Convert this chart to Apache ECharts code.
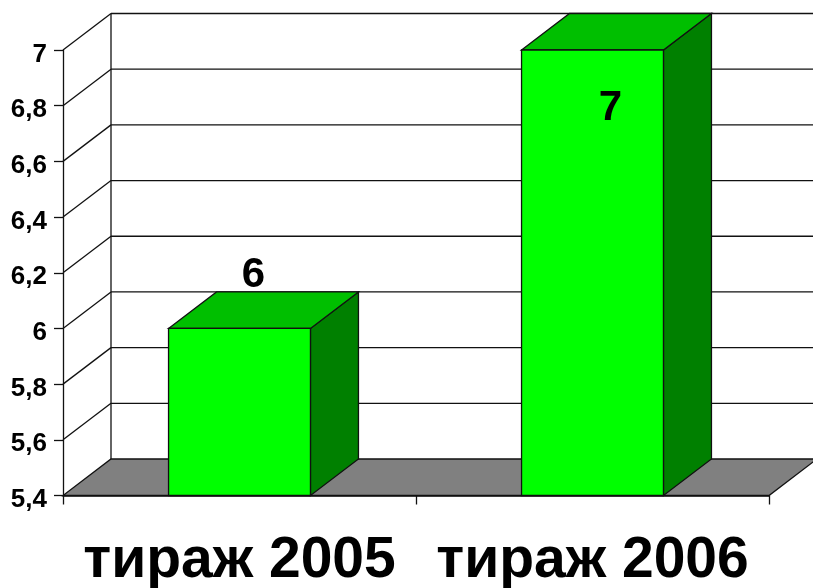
<!DOCTYPE html>
<html>
<head>
<meta charset="utf-8">
<style>html,body{margin:0;padding:0;background:#fff}#c{width:813px;height:588px}</style>
<script src="https://cdn.jsdelivr.net/npm/echarts@6/dist/echarts.min.js"></script>
</head>
<body>
<div id="c"></div>
<script>
const categories = ['тираж 2005', 'тираж 2006'];
const values = [6, 7];
const dataLabels = ['6', '7'];
const gridValues = [5.6, 5.8, 6, 6.2, 6.4, 6.6, 6.8, 7];

const DX = 48, DY = -36.5;
const LINE = '#111';
const chart = echarts.init(document.getElementById('c'), null, {renderer: 'canvas'});

function poly(points, fill, z2) {
  return {type: 'polygon', z2: z2 || 0, shape: {points}, style: {fill, stroke: LINE, lineWidth: 1.3}};
}
function seg(a, b) {
  return {type: 'line', shape: {x1: a[0], y1: a[1], x2: b[0], y2: b[1]}, style: {stroke: LINE, lineWidth: 1.3}};
}

function renderWalls(params, api) {
  const cs = params.coordSys;
  const left = cs.x, right = cs.x + cs.width, bottom = cs.y + cs.height;
  const els = [];
  els.push(poly([[left, bottom], [right, bottom], [right + DX, bottom + DY], [left + DX, bottom + DY]], '#808080'));
  els.push(seg([left + DX, cs.y + DY], [left + DX, bottom + DY]));
  gridValues.forEach(v => {
    const y = api.coord([0, v])[1];
    els.push(seg([left, y], [left + DX, y + DY]));
    els.push(seg([left + DX, y + DY], [right + DX, y + DY]));
  });
  return {type: 'group', children: els};
}

function renderBar(params, api) {
  const p = api.coord([api.value(0), api.value(1)]);
  const base = api.coord([api.value(0), 5.4]);
  const w = api.size([1, 0])[0] * 0.402;
  const l = p[0] - w / 2, r = p[0] + w / 2, t = p[1], b = base[1];
  const above = t - 53;
  const inside = above < 20;
  return {type: 'group', children: [
    poly([[r, t], [r + DX, t + DY], [r + DX, b + DY], [r, b]], '#008000'),
    poly([[l, t], [l + DX, t + DY], [r + DX, t + DY], [r, t]], '#00BF00'),
    poly([[l, t], [r, t], [r, b], [l, b]], '#00FF00'),
    {type: 'text', z2: 10, style: {
      text: dataLabels[params.dataIndex], x: p[0] + (inside ? 18 : 14), y: inside ? t + 58 : above,
      align: 'center', verticalAlign: 'middle',
      font: 'bold 42px "Liberation Sans"', fill: '#000'
    }}
  ]};
}

chart.setOption({
  animation: false,
  backgroundColor: '#fff',
  grid: {left: 63, top: 50, width: 706, height: 445.5, containLabel: false, outerBoundsMode: 'none'},
  xAxis: {
    type: 'category', data: categories, z: 5,
    axisLine: {lineStyle: {color: LINE, width: 1.5}},
    axisTick: {show: true, length: 9, alignWithLabel: false, lineStyle: {color: LINE, width: 1.3}},
    axisLabel: {interval: 0, margin: 37, fontFamily: 'Liberation Sans', fontWeight: 'bold', fontSize: 57, color: '#000'},
    splitLine: {show: false}
  },
  yAxis: {
    type: 'value', min: 5.4, max: 7, interval: 0.2, z: 5,
    axisLine: {show: true, lineStyle: {color: LINE, width: 1.3}},
    axisTick: {show: true, length: 9, lineStyle: {color: LINE, width: 1.3}},
    axisLabel: {
      margin: 16, fontFamily: 'Liberation Sans', fontWeight: 'bold', fontSize: 26, color: '#000',
      verticalAlign: 'top', lineHeight: 9,
      formatter: v => String(+v.toFixed(1)).replace('.', ',')
    },
    splitLine: {show: false}
  },
  series: [
    {type: 'custom', name: 'стены', z: 1, clip: false, silent: true, renderItem: renderWalls, data: [[0, 5.4]]},
    {type: 'custom', name: 'тираж', z: 3, clip: false, silent: true, renderItem: renderBar,
     encode: {x: 0, y: 1}, data: values.map((v, i) => [i, v])}
  ]
});
</script>
</body>
</html>
